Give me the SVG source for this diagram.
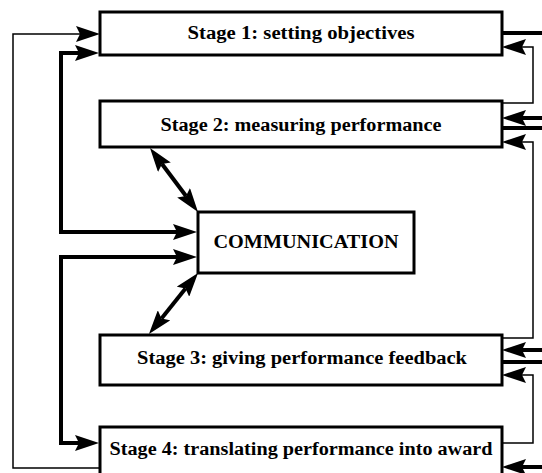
<svg xmlns="http://www.w3.org/2000/svg" width="542" height="473" viewBox="0 0 542 473">
  <defs>
    <style>
      .box { fill: #ffffff; stroke: #000000; stroke-width: 3; }
      .lbl { font-family: "Liberation Serif", "Times New Roman", serif; font-weight: bold; font-size: 18px; fill: #000000; text-anchor: middle; }
      .thick { fill: none; stroke: #000000; stroke-width: 4; }
      .thin { fill: none; stroke: #000000; stroke-width: 1.5; }
    </style>
    <marker id="ah" markerUnits="userSpaceOnUse" viewBox="0 0 24 16" refX="4" refY="8" markerWidth="24" markerHeight="16" orient="auto-start-reverse">
      <path d="M0,0 L24,8 L0,16 L4,8 Z" fill="#000000"/>
    </marker>
  </defs>

  <g id="connectors">
    <!-- left side -->
    <path class="thin" d="M100,468 H13 V34 H80" marker-end="url(#ah)"/>
    <path class="thick" d="M79,53 H61 V232 H177" marker-start="url(#ah)" marker-end="url(#ah)"/>
    <path class="thick" d="M177,257 H61 V443 H79" marker-start="url(#ah)" marker-end="url(#ah)"/>
    <!-- diagonals -->
    <path class="thick" d="M162,164 L186,196" marker-start="url(#ah)" marker-end="url(#ah)"/>
    <path class="thick" d="M185.5,288.6 L161.5,318.4" marker-start="url(#ah)" marker-end="url(#ah)"/>
    <!-- right side -->
    <path class="thick" d="M502,33 H542"/>
    <path class="thin" d="M502,103 H533 V47 H522" marker-end="url(#ah)"/>
    <path class="thick" d="M542,118 H522" marker-end="url(#ah)"/>
    <path class="thick" d="M502,128 H542"/>
    <path class="thin" d="M502,338 H533 V142 H522" marker-end="url(#ah)"/>
    <path class="thick" d="M542,350 H522" marker-end="url(#ah)"/>
    <path class="thick" d="M502,362 H542"/>
    <path class="thin" d="M502,443 H533 V375 H522" marker-end="url(#ah)"/>
    <path class="thick" d="M542,467 H522" marker-end="url(#ah)"/>
  </g>

  <g id="stage1">
    <rect class="box" x="100" y="12" width="402" height="43"/>
    <text class="lbl" x="301" y="39" textLength="227" lengthAdjust="spacingAndGlyphs">Stage 1: setting objectives</text>
  </g>
  <g id="stage2">
    <rect class="box" x="100" y="101" width="402" height="46"/>
    <text class="lbl" x="301" y="131" textLength="281" lengthAdjust="spacingAndGlyphs">Stage 2: measuring performance</text>
  </g>
  <g id="communication">
    <rect class="box" x="198" y="212" width="216" height="61"/>
    <text class="lbl" x="306" y="248" textLength="185" lengthAdjust="spacingAndGlyphs">COMMUNICATION</text>
  </g>
  <g id="stage3">
    <rect class="box" x="100" y="335" width="402" height="50"/>
    <text class="lbl" x="302" y="364" textLength="330" lengthAdjust="spacingAndGlyphs">Stage 3: giving performance feedback</text>
  </g>
  <g id="stage4">
    <rect class="box" x="100" y="427" width="402" height="60"/>
    <text class="lbl" x="301" y="455" textLength="383" lengthAdjust="spacingAndGlyphs">Stage 4: translating performance into award</text>
  </g>
</svg>
